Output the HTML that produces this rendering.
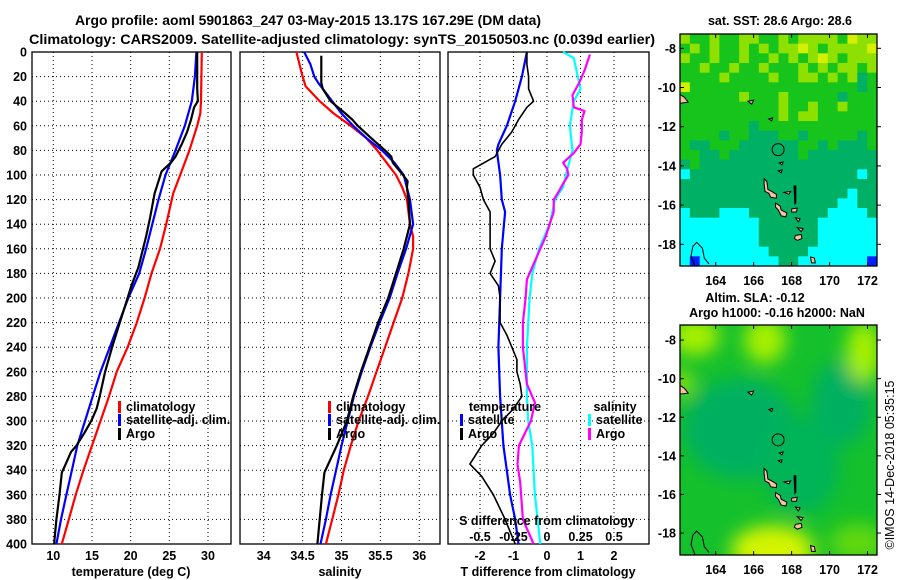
<!DOCTYPE html>
<html><head><meta charset="utf-8"><style>
body{margin:0;background:#fff;}
svg{display:block;font-family:"Liberation Sans",sans-serif;}
.t{font-weight:bold;font-size:12.5px;}
.cr{font-weight:normal;font-size:12.5px;}
.ti{font-weight:bold;font-size:14px;}
</style></head><body>
<svg id="fig" width="900" height="580" viewBox="0 0 900 580">
<text class="ti" x="308" y="25" text-anchor="middle" textLength="466" lengthAdjust="spacingAndGlyphs">Argo profile: aoml 5901863_247 03-May-2015 13.17S 167.29E (DM data)</text>
<text class="ti" x="342" y="44" text-anchor="middle" textLength="626" lengthAdjust="spacingAndGlyphs">Climatology: CARS2009. Satellite-adjusted climatology: synTS_20150503.nc (0.039d earlier)</text>
<g id="g"></g>
</svg>
<script>
// ---------- profile data ----------
const tempDepthArgo=[0,30,40,45,55,65,75,85,90,97,105,115,125,135,150,160,175,190,200,220,240,260,280,290,300,310,320,325,335,342,360,380,400];
const tempArgo=[28.6,28.6,28.7,28.2,27.8,27.3,26.6,25.8,25.2,24.0,23.6,23.1,22.8,22.5,22.0,21.6,21.0,20.1,19.6,18.6,17.6,16.7,16.0,15.6,14.9,14.0,13.0,12.3,11.6,11.1,10.8,10.4,10.1];
const depth20=[0,20,40,60,80,100,120,140,160,180,200,220,240,260,280,300,320,340,360,380,400];
const tempSat=[28.5,28.3,27.9,27.0,25.8,24.5,23.6,22.8,22.0,21.1,19.7,18.5,17.3,16.1,15.1,14.1,13.1,12.4,11.7,11.0,10.4];
const tempClimDepth=[0,40,50,60,80,100,115,140,160,180,200,220,240,260,280,300,320,340,360,380,400];
const tempClim=[29.2,29.1,29.0,28.6,27.6,26.4,25.5,24.6,23.8,22.7,21.8,20.8,19.6,18.2,17.2,16.1,15.0,13.9,12.9,12.0,11.1];
const salDepthArgo=[3,25,30,40,50,55,60,70,80,85,90,100,105,110,120,130,140,160,180,200,220,240,260,280,300,320,335,342,360,380,400];
const salArgo=[34.74,34.74,34.76,34.86,35.05,35.14,35.21,35.38,35.56,35.64,35.66,35.79,35.85,35.84,35.86,35.87,35.88,35.80,35.70,35.60,35.47,35.36,35.25,35.15,35.07,34.94,34.83,34.78,34.75,34.72,34.69];
const salSatDepth=[0,10,20,25,30,40,50,60,70,80,90,100,120,140,160,180,200,220,240,260,280,300,320,340,360,380,400];
const salSat=[34.52,34.6,34.65,34.7,34.76,34.88,35.0,35.15,35.32,35.52,35.68,35.8,35.88,35.92,35.83,35.72,35.62,35.49,35.37,35.26,35.16,35.08,35.0,34.93,34.86,34.8,34.73];
const salClimDepth=[0,10,20,28,40,50,60,70,80,90,100,110,120,140,150,160,180,200,220,240,260,280,300,320,340,360,380,400];
const salClim=[34.42,34.46,34.5,34.54,34.72,34.9,35.12,35.32,35.46,35.58,35.7,35.78,35.84,35.88,35.92,35.92,35.86,35.78,35.67,35.56,35.45,35.34,35.22,35.12,35.03,34.96,34.88,34.8];
const dTArgoDepth=[0,10,20,30,40,45,55,65,75,85,95,100,110,120,130,140,160,170,180,190,200,220,230,250,260,270,280,290,300,310,320,335,345,360,380,400];
const dTArgo=[-0.6,-0.6,-0.55,-0.55,-0.4,-0.6,-0.85,-1.05,-1.35,-1.55,-2.2,-2.2,-2.0,-1.9,-1.7,-1.7,-1.7,-1.55,-1.7,-1.45,-1.4,-1.4,-1.2,-0.9,-0.9,-0.8,-0.75,-1.0,-1.35,-1.6,-1.95,-2.3,-1.95,-1.6,-1.25,-0.95];
const dTSatDepth=[0,20,40,60,75,80,100,120,130,160,200,240,280,320,340,360,380,400];
const dTSat=[-0.6,-0.75,-0.95,-1.2,-1.45,-1.5,-1.4,-1.35,-1.25,-1.35,-1.4,-1.45,-1.4,-1.3,-1.2,-1.1,-0.95,-0.85];
const dSSatDepth=[0,5,20,30,40,60,80,100,110,120,140,160,180,200,240,280,300,320,360,400];
const dSSat=[0.12,0.2,0.23,0.25,0.2,0.17,0.19,0.14,0.12,0.06,0.02,-0.06,-0.11,-0.13,-0.15,-0.15,-0.14,-0.11,-0.09,-0.05];
const dSArgoDepth=[2,15,25,35,45,48,55,65,75,82,90,95,100,107,115,120,130,150,170,185,200,220,240,270,285,300,320,335,350,380,400];
const dSArgo=[0.32,0.28,0.24,0.19,0.2,0.28,0.26,0.26,0.25,0.2,0.12,0.15,0.16,0.12,0.08,0.05,0.05,-0.01,-0.09,-0.15,-0.16,-0.18,-0.18,-0.15,-0.09,-0.12,-0.21,-0.22,-0.2,-0.18,-0.1];
const depthTicks=[0,20,40,60,80,100,120,140,160,180,200,220,240,260,280,300,320,340,360,380,400];
const tempTicks=[10,15,20,25,30];
const salTicks=[34,34.5,35,35.5,36];
const dTTicks=[-2,-1,0,1,2];
const dSTicks=[-0.5,-0.25,0,0.25,0.5];
const dSTickLabels=["-0.5","-0.25","0","0.25","0.5"];
// ---------- map data ----------
const sstGrid=[
"LGGLGGLLGGLGLLLLGYLL","GLGLGGLGLGLLYLGLLLLY","LGGLGGLGGLGLGLYLGLLL","GGLGGLGGLGGGLGLGLLGL",
"GGGGLGGGGLGGLLGLGLTG","YGGGGGGGGGGGGGGGGGTG","GGGGGGLGGGLGGGGGTGGG","GGGGGGGGGGLGGLGGLGGG",
"GGGGGGGGGGLGLLGGGGGG","GGGGGGGTGGGGGGGGGGGG","GGGGTGGTTTGGTGGGGGTG","GTTGGGTTTTTTGGTGTTTG",
"GGTTGTTTTTTTGTTTTTTT","TGTTTTTTTTTTTTTTTTTT","CTTTTTTTTTTTTTTTTTCT","TTTTTTTTTTTTTTTTTTTT",
"TTTTTTTTTTTTTTTTTCTT","TTTTTTTTTTTTTTTTCCTT","CTTTCCCTTTTTTTTCCCCT","CCCCCCCCTTTTTTCCCCCC",
"CCCCCCCCTTTTTTCCCCCC","CCCCCCCCTTTTTTCCCCCC","CCCCCCCCCTTTTCCCCCCC","CBCCCCCCCCTTCCCCCCCB"];
const sstColors={Y:"#d4f000",L:"#8ee000",G:"#16c41c",T:"#00b064",C:"#00ffff",B:"#0020ff"};
const slaSpots=[ // lon, lat, rx(deg), ry(deg), color
[165.3,-12.6,3.0,2.6,"#00b060"],[170.6,-11.3,1.6,2.2,"#00b060"],[168.5,-14.5,2.0,2.5,"#05b458"],
[162.9,-7.8,1.3,1.0,"#a8f000"],[166.6,-8.0,1.1,1.2,"#a8f000"],[171.8,-8.6,0.9,1.6,"#a8f000"],
[162.2,-10.2,0.5,0.6,"#b8f000"],[167.0,-18.9,2.2,1.3,"#d4f400"],[171.5,-18.5,1.5,1.0,"#60d810"]];
const islands=[
[[166.55,-14.65],[166.7,-14.8],[166.75,-15.2],[166.95,-15.3],[167.2,-15.45],[167.2,-15.65],[166.9,-15.6],[166.8,-15.4],[166.6,-15.3],[166.55,-14.9]],
[[167.15,-15.9],[167.4,-16.05],[167.45,-16.25],[167.75,-16.4],[167.7,-16.6],[167.45,-16.55],[167.3,-16.25],[167.15,-16.1]],
[[168.2,-17.55],[168.5,-17.5],[168.55,-17.7],[168.3,-17.8],[168.15,-17.7]],
[[168.0,-16.2],[168.3,-16.15],[168.25,-16.35],[168.0,-16.35]],
[[168.2,-16.65],[168.45,-16.7],[168.35,-16.85]],
[[167.6,-15.35],[167.95,-15.3],[167.85,-15.45]],
[[169.0,-18.65],[169.2,-18.7],[169.25,-18.95],[169.05,-18.95]],
[[162.12,-10.35],[162.35,-10.5],[162.55,-10.75],[162.12,-10.8]],
[[165.7,-10.7],[166.0,-10.65],[165.9,-10.85]],
[[166.8,-11.6],[167.0,-11.55],[166.95,-11.7]],
[[167.35,-13.85],[167.55,-13.8],[167.5,-13.95]],
[[167.3,-14.25],[167.5,-14.2],[167.45,-14.35]],
[[168.3,-17.15],[168.6,-17.2],[168.5,-17.35]]];
const pentecost=[[168.1,-15.0],[168.25,-15.0],[168.25,-15.9],[168.15,-16.0]];
const bathy=[[162.9,-19.1],[162.7,-18.6],[162.8,-18.1],[163.0,-17.9],[163.3,-18.2],[163.4,-18.7],[163.65,-19.0]];
const argoPos=[167.29,-13.17];
const lonTicks=[164,166,168,170,172];
const latTicks=[-8,-10,-12,-14,-16,-18];

// ---------- helpers ----------
const NS="http://www.w3.org/2000/svg";
const G=document.getElementById('g');
function mk(tag,attrs,parent){const e=document.createElementNS(NS,tag);for(const k in attrs)e.setAttribute(k,attrs[k]);(parent||G).appendChild(e);return e;}
const yD=d=>52+d*1.23;
const xT=t=>53.3+(t-10)*7.735;
const xS=s=>263.7+(s-34)*77.8;
const xDT=t=>547+t*33.5;
const xDS=s=>xDT(s*4);
const mx=lon=>680+(lon-162.12)*18.98;
const my1=lat=>34+(-7.27-lat)*19.6;
const my2=lat=>325+(-7.22-lat)*19.3;

function panel(x0,x1,name){
  depthTicks.forEach(d=>{if(d>0&&d<400){const l=mk('line',{x1:x0,x2:x1,y1:yD(d),y2:yD(d),stroke:'#000','stroke-width':1,'stroke-dasharray':'1,3'});
  }});
  const r=mk('rect',{x:x0,y:52,width:x1-x0,height:492,fill:'none',stroke:'#000','stroke-width':1.3});
  
}
function vgrid(xs,f,name){xs.forEach(v=>{const l=mk('line',{x1:f(v),x2:f(v),y1:52,y2:544,stroke:'#000','stroke-width':1,'stroke-dasharray':'1,3'});
  });}
function line(ds,vs,fx,color,w,name){
  const pts=ds.map((d,i)=>fx(vs[i]).toFixed(1)+','+yD(d).toFixed(1)).join(' ');
  const p=mk('polyline',{points:pts,fill:'none',stroke:color,'stroke-width':w,'stroke-linejoin':'round'});
  
}
function txt(x,y,s,anchor,cls,name,extra){
  const t=mk('text',Object.assign({x:x,y:y,'text-anchor':anchor||'middle','class':cls||'t'},extra||{}));t.textContent=s;
  return t;}
function legend(x,y,color,label,name){
  const r=mk('rect',{x:x,y:y-10,width:3,height:12,fill:color});
  
  txt(x+8,y,label,'start','t',name);}

// ---------- panel 1: temperature ----------
panel(32,231,'temperature-panel');
vgrid(tempTicks,xT,'temperature-grid-v');
line(tempClimDepth,tempClim,xT,'#ff0000',2.2,'temperature-climatology-line');
line(depth20,tempSat,xT,'#0000ff',2.2,'temperature-satellite-line');
line(tempDepthArgo,tempArgo,xT,'#000000',2.2,'temperature-argo-line');
depthTicks.forEach(d=>txt(27,yD(d)+4.5,String(d),'end','t','depth-tick-label'));
tempTicks.forEach(t=>txt(xT(t),560,String(t),'middle','t','temperature-tick-label'));
txt(131,576,'temperature (deg C)','middle','t','temperature-axis-title');
legend(118,411,'#ff0000','climatology','temperature-legend-climatology');
legend(118,424,'#0000ff','satellite-adj. clim.','temperature-legend-satellite');
legend(118,438,'#000000','Argo','temperature-legend-argo');

// ---------- panel 2: salinity ----------
panel(240,440,'salinity-panel');
vgrid(salTicks,xS,'salinity-grid-v');
line(salClimDepth,salClim,xS,'#ff0000',2.2,'salinity-climatology-line');
line(salSatDepth,salSat,xS,'#0000ff',2.2,'salinity-satellite-line');
line(salDepthArgo,salArgo,xS,'#000000',2.2,'salinity-argo-line');
salTicks.forEach(s=>txt(xS(s),560,String(s),'middle','t','salinity-tick-label'));
txt(340,576,'salinity','middle','t','salinity-axis-title');
legend(328,411,'#ff0000','climatology','salinity-legend-climatology');
legend(328,424,'#0000ff','satellite-adj. clim.','salinity-legend-satellite');
legend(328,438,'#000000','Argo','salinity-legend-argo');

// ---------- panel 3: differences ----------
panel(448,649,'difference-panel');
vgrid(dTTicks,xDT,'difference-grid-v');
line(dTSatDepth,dTSat,xDT,'#0000ff',2.2,'t-diff-satellite-line');
line(dTArgoDepth,dTArgo,xDT,'#000000',1.6,'t-diff-argo-line');
line(dSSatDepth,dSSat,xDS,'#00ffff',2.2,'s-diff-satellite-line');
line(dSArgoDepth,dSArgo,xDS,'#ff00ff',2.2,'s-diff-argo-line');
dTTicks.forEach(t=>txt(xDT(t),560,String(t),'middle','t','t-diff-tick-label'));
dSTicks.forEach((s,i)=>txt(xDS(s),541,dSTickLabels[i],'middle','t','s-diff-tick-label'));
txt(547,525,'S difference from climatology','middle','t','s-diff-axis-title');
txt(548,576,'T difference from climatology','middle','t','t-diff-axis-title');
txt(505,411,'temperature','middle','t','difference-legend-temperature-heading');
legend(460,424,'#0000ff','satellite','difference-legend-t-satellite');
legend(460,438,'#000000','Argo','difference-legend-t-argo');
txt(615,411,'salinity','middle','t','difference-legend-salinity-heading');
legend(588,424,'#00ffff','satellite','difference-legend-s-satellite');
legend(588,438,'#ff00ff','Argo','difference-legend-s-argo');

// ---------- maps ----------
const defs=mk('defs',{});
mk('clipPath',{id:'c1'},defs).appendChild((()=>{const r=document.createElementNS(NS,'rect');r.setAttribute('x',680);r.setAttribute('y',34);r.setAttribute('width',197);r.setAttribute('height',232);return r;})());
mk('clipPath',{id:'c2'},defs).appendChild((()=>{const r=document.createElementNS(NS,'rect');r.setAttribute('x',680);r.setAttribute('y',325);r.setAttribute('width',197);r.setAttribute('height',230);return r;})());
const blur=mk('filter',{id:'bl',x:'-50%',y:'-50%',width:'200%',height:'200%'},defs);
mk('feGaussianBlur',{stdDeviation:9},blur);

function mapLayer(my,clip,name){
  const g=mk('g',{'clip-path':'url(#'+clip+')'});
  
  return g;
}
// map 1 SST
const m1=mapLayer(my1,'c1','sst-map');
const cw=197/20,ch=232/24;
sstGrid.forEach((row,ri)=>{for(let ci=0;ci<row.length;ci++){
  const c=mk('rect',{x:(680+ci*cw).toFixed(2),y:(34+ri*ch).toFixed(2),width:cw+0.4,height:ch+0.4,fill:sstColors[row[ci]]},m1);
  }});
// map 2 SLA
const m2=mapLayer(my2,'c2','sla-map');
const base=mk('rect',{x:680,y:325,width:197,height:230,fill:'#14c02c'},m2);

const sg=mk('g',{filter:'url(#bl)'},m2);
slaSpots.forEach(s=>{const e=mk('ellipse',{cx:mx(s[0]),cy:my2(s[1]),rx:s[2]*18.98,ry:s[3]*19.3,fill:s[4]},sg);
  });

function decorate(g,my,name){
  islands.forEach(poly=>{const p=mk('polygon',{points:poly.map(q=>mx(q[0]).toFixed(1)+','+my(q[1]).toFixed(1)).join(' '),fill:'#f5c49c',stroke:'#000','stroke-width':1},g);
    });
  const pc=mk('polygon',{points:pentecost.map(q=>mx(q[0]).toFixed(1)+','+my(q[1]).toFixed(1)).join(' '),fill:'#000'},g);
  
  const b=mk('polyline',{points:bathy.map(q=>mx(q[0]).toFixed(1)+','+my(q[1]).toFixed(1)).join(' '),fill:'none',stroke:'#000','stroke-width':1},g);
  
  const c=mk('circle',{cx:mx(argoPos[0]),cy:my(argoPos[1]),r:6,fill:'none',stroke:'#000','stroke-width':1},g);
  
}
decorate(m1,my1,'sst-map');
decorate(m2,my2,'sla-map');

function mapFrame(y0,h,my,name){
  const r=mk('rect',{x:680,y:y0,width:197,height:h,fill:'none',stroke:'#000','stroke-width':1.3});
  
  lonTicks.forEach(l=>{const x=mx(l);
    mk('line',{x1:x,x2:x,y1:y0,y2:y0+4,stroke:'#000'});mk('line',{x1:x,x2:x,y1:y0+h,y2:y0+h-4,stroke:'#000'});
    txt(x,y0+h+19,String(l),'middle','t',name+'-lon-label');});
  latTicks.forEach(l=>{const y=my(l);
    mk('line',{x1:680,x2:684,y1:y,y2:y,stroke:'#000'});mk('line',{x1:877,x2:881,y1:y,y2:y,stroke:'#000'});
    txt(676,y+4.5,String(l),'end','t',name+'-lat-label');});
}
mapFrame(34,232,my1,'sst-map');
mapFrame(325,230,my2,'sla-map');
txt(780,25,'sat. SST: 28.6 Argo: 28.6','middle','t','sst-map-title');
txt(755,302,'Altim. SLA: -0.12','middle','t','sla-map-title');
txt(777,317,'Argo h1000: -0.16 h2000: NaN','middle','t','sla-map-subtitle');
txt(0,0,'©IMOS 14-Dec-2018 05:35:15','middle','cr','copyright-stamp',{transform:'translate(894,465) rotate(-90)'});
</script>
</body></html>
